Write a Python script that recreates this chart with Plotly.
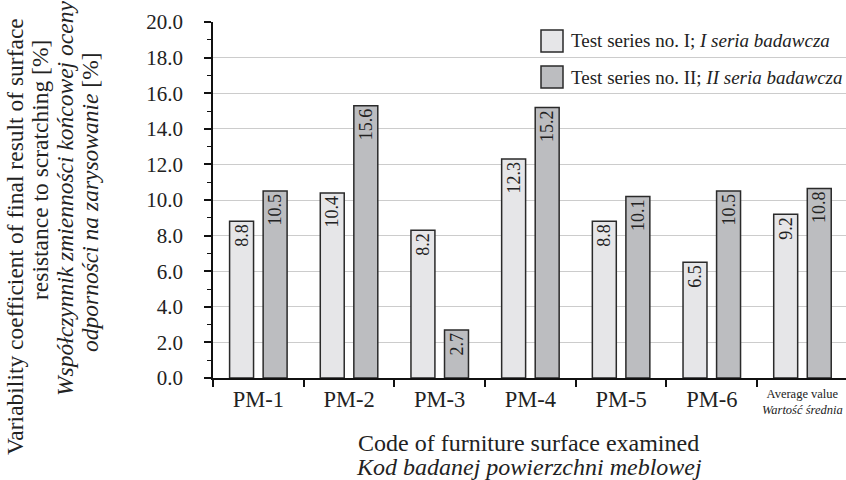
import plotly.graph_objects as go

# ---- data ----
categories = ["PM-1", "PM-2", "PM-3", "PM-4", "PM-5", "PM-6", "Average value"]
tick_labels = ["PM-1", "PM-2", "PM-3", "PM-4", "PM-5", "PM-6", ""]
series_1_name = "Test series no. I; <i>I seria badawcza</i>"
series_2_name = "Test series no. II; <i>II seria badawcza</i>"
series_1_values = [8.8, 10.4, 8.3, 12.3, 8.8, 6.5, 9.2]
series_2_values = [10.5, 15.3, 2.7, 15.2, 10.2, 10.5, 10.65]
series_1_labels = ["8.8", "10.4", "8.2", "12.3", "8.8", "6.5", "9.2"]
series_2_labels = ["10.5", "15.6", "2.7", "15.2", "10.1", "10.5", "10.8"]

FONT = "Liberation Serif"
W, H = 846, 480
L, R, T, B = 213, 0, 22, 102
PW, PH = W - L - R, H - T - B


def px_x(px):
    return (px - L) / PW


def px_y(py):
    return (H - B - py) / PH


fig = go.Figure()
fig.add_trace(go.Bar(
    x=categories, y=series_1_values, name=series_1_name,
    marker=dict(color="#e6e6e8", line=dict(color="#2a2a2a", width=1.5)),
    text=series_1_labels, textposition="inside", insidetextanchor="end",
    textangle=-90, constraintext="none",
    textfont=dict(family=FONT, size=18, color="#222222"),
    showlegend=False,
))
fig.add_trace(go.Bar(
    x=categories, y=series_2_values, name=series_2_name,
    marker=dict(color="#bcbdc0", line=dict(color="#2a2a2a", width=1.5)),
    text=series_2_labels, textposition="inside", insidetextanchor="end",
    textangle=-90, constraintext="none",
    textfont=dict(family=FONT, size=18, color="#222222"),
    showlegend=False,
))

shapes = []
annotations = []

# manual legend
legend_items = [(series_1_name, "#e6e6e8", 41), (series_2_name, "#bcbdc0", 77)]
for name, color, cy in legend_items:
    shapes.append(dict(
        type="rect", xref="paper", yref="paper",
        x0=px_x(541), x1=px_x(563), y0=px_y(cy + 11), y1=px_y(cy - 11),
        fillcolor=color, line=dict(color="#2a2a2a", width=1.5), layer="above",
    ))
    annotations.append(dict(
        text=name, xref="paper", yref="paper", x=px_x(569), y=px_y(cy),
        xanchor="left", yanchor="middle", showarrow=False,
        font=dict(family=FONT, size=19, color="#222222"),
    ))

# average value tick label
annotations.append(dict(
    text="Average value<br><i>Wartość średnia</i>", xref="x", yref="paper",
    x=categories[-1], y=px_y(402), xanchor="center", yanchor="middle",
    showarrow=False, font=dict(family=FONT, size=12.5, color="#222222"),
))

# x axis title
annotations.append(dict(
    text="Code of furniture surface examined", xref="paper", yref="paper",
    x=px_x(528), y=px_y(443), xanchor="center", yanchor="middle",
    showarrow=False, font=dict(family=FONT, size=24, color="#222222"),
))
annotations.append(dict(
    text="<i>Kod badanej powierzchni meblowej</i>", xref="paper", yref="paper",
    x=px_x(529), y=px_y(467), xanchor="center", yanchor="middle",
    showarrow=False, font=dict(family=FONT, size=24, color="#222222"),
))

# y axis title lines
ytitle_lines = [
    ("Variability coefficient of final result of surface", 15, 237),
    ("resistance to scratching [%]", 40, 170),
    ("<i>Współczynnik zmienności końcowej oceny</i>", 65, 199),
    ("<i>odporności na zarysowanie</i> [%]", 90, 202),
]
for txt, cx, cy in ytitle_lines:
    annotations.append(dict(
        text=txt, xref="paper", yref="paper", x=px_x(cx), y=px_y(cy),
        xanchor="center", yanchor="middle", textangle=-90, showarrow=False,
        font=dict(family=FONT, size=23.5, color="#222222"),
    ))

fig.update_layout(
    width=W, height=H,
    margin=dict(l=L, r=R, t=T, b=B, pad=0),
    paper_bgcolor="white", plot_bgcolor="white",
    barmode="group", bargap=0.26, bargroupgap=0.286,
    font=dict(family=FONT, size=21, color="#222222"),
    shapes=shapes, annotations=annotations,
    showlegend=False,
    xaxis=dict(
        type="category", range=[-0.5, 6.48],
        tickmode="array", tickvals=categories, ticktext=tick_labels,
        tickson="boundaries", ticks="outside", ticklen=7, tickwidth=1.5,
        tickcolor="#111111", showline=True, linecolor="#111111", linewidth=1.5,
        showgrid=False, tickfont=dict(family=FONT, size=22.5, color="#222222"),
    ),
    yaxis=dict(
        range=[0, 20], dtick=2, tick0=0, tickformat=".1f",
        ticks="outside", ticklen=7, tickwidth=1.5, tickcolor="#111111",
        showline=True, linecolor="#111111", linewidth=1.5,
        showgrid=True, gridcolor="#cccccc", gridwidth=1, zeroline=False,
        minor=dict(dtick=1, ticks="outside", ticklen=4, tickwidth=1.2,
                   tickcolor="#111111", showgrid=False),
        tickfont=dict(family=FONT, size=21, color="#222222"),
        ticklabelstandoff=17,
    ),
)

fig.write_html("out.html", config={"displayModeBar": False},
               post_script="document.body.style.margin='0px';")
